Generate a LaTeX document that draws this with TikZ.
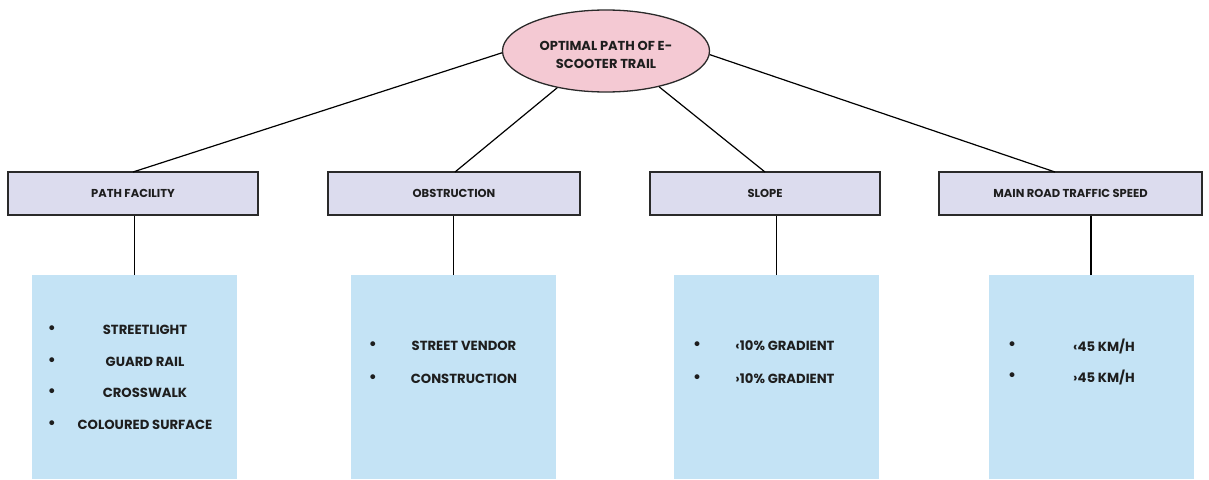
\documentclass[tikz,border=0pt]{standalone}
\usepackage{fontspec}
\setmainfont{Poppins}
\usetikzlibrary{shapes.geometric}
\definecolor{pinkfill}{HTML}{F4C9D3}
\definecolor{lavfill}{HTML}{DCDCEE}
\definecolor{bluefill}{HTML}{C4E3F5}
\definecolor{edge}{HTML}{2A2A2A}
\definecolor{txt}{HTML}{1E1E1E}
\tikzset{
  root/.style={ellipse, draw=edge, line width=1.3pt, fill=pinkfill, minimum width=207pt, minimum height=82pt, inner sep=0pt},
  roottext/.style={align=center, inner sep=0pt, font=\fontsize{13}{18}\selectfont\bfseries, text=txt},
  catbox/.style={draw=edge, line width=1.3pt, fill=lavfill, minimum height=43pt, inner sep=0pt, font=\fontsize{11.5}{12}\selectfont\bfseries, text=txt},
  listbox/.style={fill=bluefill, minimum width=205pt, minimum height=204pt, inner sep=0pt, anchor=north},
  item/.style={font=\fontsize{13.2}{13}\selectfont\bfseries, text=txt, inner sep=0pt},
  bul/.style={font=\fontsize{16}{16}\selectfont\bfseries, text=txt, inner sep=0pt},
  link/.style={draw=black, line width=1.2pt}
}
\begin{document}
\begin{tikzpicture}[x=1pt,y=-1pt]
\useasboundingbox (0,0) rectangle (1209,479);
\fill[white] (0,0) rectangle (1209,479);
% root
\node[root] (r) at (606,51) {};
\node[roottext] (rt) at (606,55) {OPTIMAL PATH OF E-\\SCOOTER TRAIL};
% categories
\node[catbox, minimum width=250pt] (c1) at (133,193.5) {PATH FACILITY};
\node[catbox, minimum width=252pt] (c2) at (454,193.5) {OBSTRUCTION};
\node[catbox, minimum width=230pt] (c3) at (765,193.5) {SLOPE};
\node[catbox, minimum width=263pt] (c4) at (1070.5,193.5) {MAIN ROAD TRAFFIC SPEED};
% list boxes
\node[listbox] (l1) at (134.5,275) {};
\node[listbox] (l2) at (453.5,275) {};
\node[listbox] (l3) at (776.5,275) {};
\node[listbox] (l4) at (1091,275) {};
% connectors root -> categories
\coordinate (t1) at (133,172);
\coordinate (t2) at (455,172);
\coordinate (t3) at (765,172);
\coordinate (t4) at (1055,172);
\draw[link] (r.181) -- (t1);
\draw[link] (r.217) -- (t2);
\draw[link] (r.326) -- (t3);
\draw[link] (r.358) -- (t4);
% connectors categories -> lists (vertical)
\draw[link] (l1.north) -- (l1.north |- c1.south);
\draw[link] (l2.north) -- (l2.north |- c2.south);
\draw[link] (l3.north) -- (l3.north |- c3.south);
\draw[link] (l4.north) -- (l4.north |- c4.south);
% list 1
\node[bul] (b11) at (52,330) {•};
\node[item] (i11) at (145,330) {STREETLIGHT};
\node[bul] (b12) at (52,362) {•};
\node[item] (i12) at (145,362) {GUARD RAIL};
\node[bul] (b13) at (52,393) {•};
\node[item] (i13) at (145,393) {CROSSWALK};
\node[bul] (b14) at (52,425) {•};
\node[item] (i14) at (145,425) {COLOURED SURFACE};
% list 2
\node[bul] (b21) at (373,346) {•};
\node[item] (i21) at (464,346) {STREET VENDOR};
\node[bul] (b22) at (373,379) {•};
\node[item] (i22) at (464,379) {CONSTRUCTION};
% list 3
\node[bul] (b31) at (697,346) {•};
\node[item] (i31) at (785,346) {‹10\% GRADIENT};
\node[bul] (b32) at (697,379) {•};
\node[item] (i32) at (785,379) {›10\% GRADIENT};
% list 4
\node[bul] (b41) at (1012,346) {•};
\node[item] (i41) at (1104,346) {‹45 KM/H};
\node[bul] (b42) at (1012,377) {•};
\node[item] (i42) at (1104,377) {›45 KM/H};
\end{tikzpicture}
\end{document}
